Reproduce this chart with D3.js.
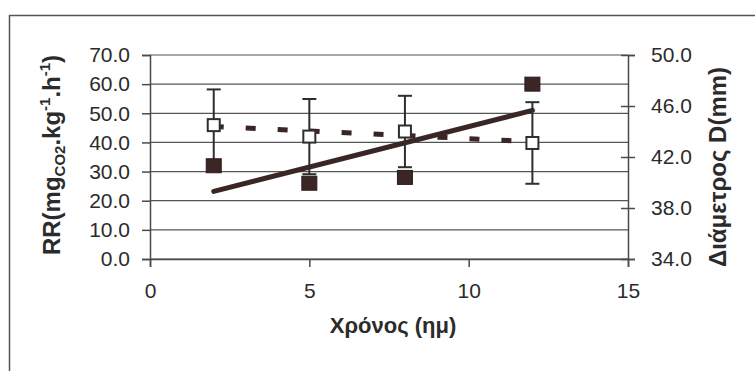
<!DOCTYPE html>
<html>
<head>
<meta charset="utf-8">
<script src="https://cdn.jsdelivr.net/npm/d3@7"></script>
<style>
  body { margin: 0; background: #fff; }
  svg { display: block; font-family: "Liberation Sans", Arial, sans-serif; }
</style>
</head>
<body>
<svg id="chart" width="755" height="371"></svg>
<script>
// data
var days = [2, 5, 8, 12];
var rrValues = [32, 26, 28, 60];            // filled squares, left axis
var diamValues = [44.5, 43.6, 44.0, 43.1];  // open squares, right axis
var diamErr = [2.8, 2.95, 2.8, 3.2];
var rrTrendX = [2, 12], rrTrendY = [23.2, 51.0];
var diamTrendX = [2, 12], diamTrendY = [44.4, 43.2];
var xTicks = [0, 5, 10, 15];
var leftTicks = [0, 10, 20, 30, 40, 50, 60, 70];
var rightTicks = [34, 38, 42, 46, 50];

var svg = d3.select('#chart');
var ink = '#3b2626', axisCol = '#4a4a4a', textCol = '#2b2b2b';

var x = d3.scaleLinear().domain([0, 15]).range([150, 628]);
var yL = d3.scaleLinear().domain([0, 70]).range([259, 55]);
var yR = d3.scaleLinear().domain([34, 50]).range([259, 55]);

// outer frame
svg.append('rect')
   .attr('x', 9.5).attr('y', 15.5)
   .attr('width', 800).attr('height', 400)
   .attr('fill', 'none').attr('stroke', '#555').attr('stroke-width', 1.5);

// grid
svg.append('g').selectAll('line')
   .data(leftTicks).enter().append('line')
   .attr('x1', x(0)).attr('x2', x(15))
   .attr('y1', function(d){ return yL(d); })
   .attr('y2', function(d){ return yL(d); })
   .attr('stroke', '#555').attr('stroke-width', 1.2);

// axes
var gL = svg.append('g').attr('transform', 'translate(' + x(0) + ',0)')
   .call(d3.axisLeft(yL).tickValues(leftTicks).tickSize(8).tickPadding(12).tickFormat(d3.format('.1f')));
var gR = svg.append('g').attr('transform', 'translate(' + x(15) + ',0)')
   .call(d3.axisRight(yR).tickValues(rightTicks).tickSize(7).tickPadding(16).tickFormat(d3.format('.1f')));
gR.selectAll('.tick line').attr('x1', -7);
var gB = svg.append('g').attr('transform', 'translate(0,' + yL(0) + ')')
   .call(d3.axisBottom(x).tickValues(xTicks).tickSize(8).tickPadding(16).tickFormat(d3.format('d')));

[gL, gR, gB].forEach(function(g){
  g.selectAll('.domain').attr('stroke', axisCol).attr('stroke-width', 1.5);
  g.selectAll('.tick line').attr('stroke', axisCol).attr('stroke-width', 1.5);
  g.selectAll('text').attr('font-size', 21).attr('fill', textCol)
   .attr('font-family', '"Liberation Sans", Arial, sans-serif');
});

// trend lines
var lineL = d3.line().x(function(d){ return x(d[0]); }).y(function(d){ return yL(d[1]); });
var lineR = d3.line().x(function(d){ return x(d[0]); }).y(function(d){ return yR(d[1]); });
svg.append('path').datum(d3.zip(diamTrendX, diamTrendY))
   .attr('d', lineR).attr('fill', 'none').attr('stroke', ink)
   .attr('stroke-width', 5).attr('stroke-dasharray', '10,22');
svg.append('path').datum(d3.zip(rrTrendX, rrTrendY))
   .attr('d', lineL).attr('fill', 'none').attr('stroke', ink)
   .attr('stroke-width', 5).attr('stroke-linecap', 'round');

// error bars
var eb = svg.append('g').attr('stroke', '#2e2e2e').attr('stroke-width', 2);
days.forEach(function(d, i){
  var lo = yR(diamValues[i] - diamErr[i]), hi = yR(diamValues[i] + diamErr[i]);
  eb.append('line').attr('x1', x(d)).attr('x2', x(d)).attr('y1', lo).attr('y2', hi);
  eb.append('line').attr('x1', x(d) - 7).attr('x2', x(d) + 7).attr('y1', lo).attr('y2', lo);
  eb.append('line').attr('x1', x(d) - 7).attr('x2', x(d) + 7).attr('y1', hi).attr('y2', hi);
});

// open squares
svg.append('g').selectAll('rect')
   .data(days).enter().append('rect')
   .attr('x', function(d){ return x(d) - 6; })
   .attr('y', function(d, i){ return yR(diamValues[i]) - 6; })
   .attr('width', 12).attr('height', 12)
   .attr('fill', '#fff').attr('stroke', '#2e2e2e').attr('stroke-width', 2);

// filled squares
svg.append('g').selectAll('rect')
   .data(days).enter().append('rect')
   .attr('x', function(d){ return x(d) - 7.5; })
   .attr('y', function(d, i){ return yL(rrValues[i]) - 7; })
   .attr('width', 15).attr('height', 14)
   .attr('fill', ink).attr('stroke', '#2a1c1c').attr('stroke-width', 1);

// titles
var tl = svg.append('text')
   .attr('transform', 'translate(60,155) rotate(-90)')
   .attr('text-anchor', 'middle').attr('font-size', 24).attr('font-weight', 'bold').attr('fill', textCol);
tl.append('tspan').text('RR(mg');
tl.append('tspan').attr('font-size', 15).attr('dy', 5).text('CO2');
tl.append('tspan').attr('dy', -5).text('.kg');
tl.append('tspan').attr('font-size', 15).attr('dy', -10).text('-1');
tl.append('tspan').attr('dy', 10).text('.h');
tl.append('tspan').attr('font-size', 15).attr('dy', -10).text('-1');
tl.append('tspan').attr('dy', 10).text(')');

svg.append('text')
   .attr('transform', 'translate(726,167) rotate(-90)')
   .attr('text-anchor', 'middle').attr('font-size', 24).attr('font-weight', 'bold').attr('fill', textCol)
   .text('Διάμετρος D(mm)');

svg.append('text')
   .attr('x', 393).attr('y', 333)
   .attr('text-anchor', 'middle').attr('font-size', 22).attr('font-weight', 'bold').attr('fill', textCol)
   .text('Χρόνος (ημ)');
</script>
</body>
</html>
